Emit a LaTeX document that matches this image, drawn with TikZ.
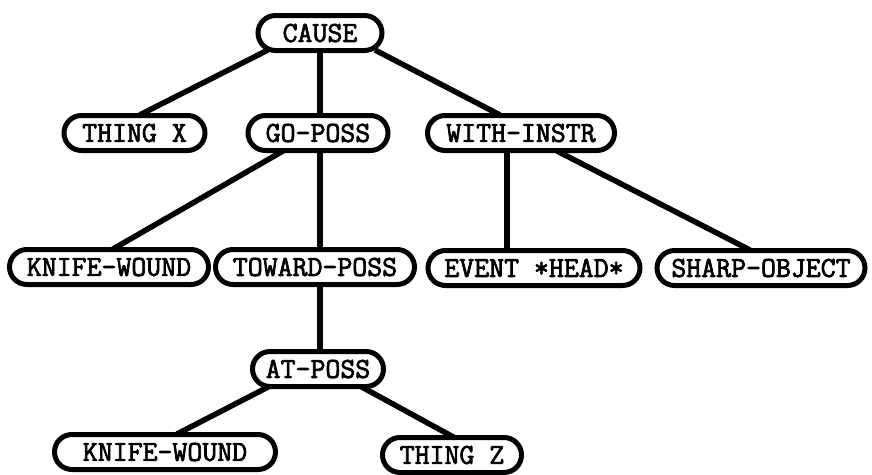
\documentclass[tikz,border=0pt]{standalone}
\usepackage{fontspec}
\newfontfamily\nodefont{Latin Modern Mono}[FakeBold=2.5]
\usetikzlibrary{shapes.misc,calc,backgrounds}
\tikzset{
  box/.style={rounded rectangle, draw=black, fill=white, line width=5pt,
    inner sep=0pt, minimum height=35pt, font=\nodefont\fontsize{29}{29}\selectfont},
  link/.style={line width=5.5pt, black}
}
\begin{document}
\begin{tikzpicture}[x=1pt,y=-1pt]
\useasboundingbox (0,0) rectangle (872,474);
\node[box, minimum width=124pt] (cause) at (320,33) {CAUSE};
\node[box, minimum width=141pt] (thingx) at (134.5,133) {THING X};
\node[box, minimum width=140pt] (goposs) at (318,133) {GO-POSS};
\node[box, minimum width=187pt] (withinstr) at (521,133) {WITH-INSTR};
\node[box, minimum width=199pt] (kw1) at (109,267) {KNIFE-WOUND};
\node[box, minimum width=199pt] (toward) at (315,267) {TOWARD-POSS};
\node[box, minimum width=212pt] (event) at (534,268) {EVENT *HEAD*};
\node[box, minimum width=208pt] (sharp) at (761,268) {SHARP-OBJECT};
\node[box, minimum width=131pt] (atposs) at (318,369) {AT-POSS};
\node[box, minimum width=221pt] (kw2) at (165,452) {KNIFE-WOUND};
\node[box, minimum width=139pt] (thingz) at (452,455) {THING Z};
\begin{pgfonlayer}{background}
\draw[link] ($(cause)+(-52,17)$) -- ($(thingx)+(5,-18)$);
\draw[link] ($(cause)+(0,15)$) -- ($(goposs)+(2,-18)$);
\draw[link] ($(cause)+(55,17)$) -- ($(withinstr)+(-21,-18)$);
\draw[link] ($(goposs)+(-35,18)$) -- ($(kw1)+(4,-18)$);
\draw[link] ($(goposs)+(2,18)$) -- ($(toward)+(5,-18)$);
\draw[link] ($(withinstr)+(-14,18)$) -- ($(event)+(-27,-18)$);
\draw[link] ($(withinstr)+(36,18)$) -- ($(sharp)+(-11,-18)$);
\draw[link] ($(toward)+(5,18)$) -- ($(atposs)+(2,-18)$);
\draw[link] ($(atposs)+(-48,17)$) -- ($(kw2)+(12,-18)$);
\draw[link] ($(atposs)+(42,17)$) -- ($(thingz)+(5,-16)$);
\end{pgfonlayer}
\end{tikzpicture}
\end{document}
